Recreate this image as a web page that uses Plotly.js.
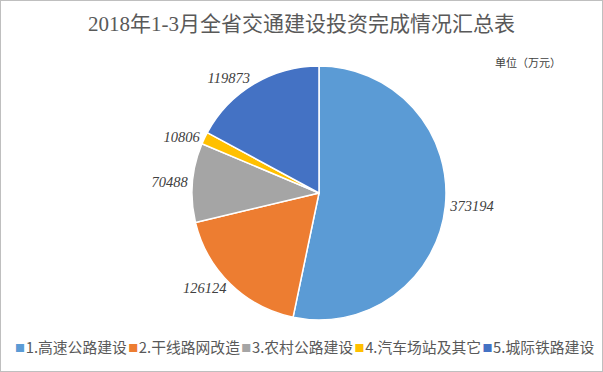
<!DOCTYPE html>
<html><head><meta charset="utf-8">
<script src="https://cdn.plot.ly/plotly-3.0.1.min.js"></script>
<style>
html,body{margin:0;padding:0;background:#fff;}
#chart{width:601px;height:370px;border:1px solid #BFBFBF;}
</style></head>
<body><div id="chart"></div>
<script>
const categories = ["1.高速公路建设","2.干线路网改造","3.农村公路建设","4.汽车场站及其它","5.城际铁路建设"];
const values = [373194, 126124, 70488, 10806, 119873];
const colors = ["#5B9BD5","#ED7D31","#A5A5A5","#FFC000","#4472C4"];
const titleText = "2018年1-3月全省交通建设投资完成情况汇总表";
const unitText = "单位（万元）";

const W = 601, H = 370;
const cx = 318, cy = 192, r = 127;
const data = [{
  type: "pie",
  labels: categories,
  values: values,
  sort: false,
  direction: "clockwise",
  rotation: 0,
  marker: {colors: colors, line: {color: "#FFFFFF", width: 1.5}},
  textposition: "outside",
  texttemplate: "%{value:.0f}",
  textfont: {family: "Liberation Serif, Times New Roman, serif", size: 14.5, color: "#404040", style: "italic"},
  hoverinfo: "label+value",
  automargin: false,
  showlegend: false,
  domain: {x: [(cx - r) / W, (cx + r) / W], y: [1 - (cy + r) / H, 1 - (cy - r) / H]}
}];

// legend built from the category and colour arrays
const legendText = categories.map((c, i) =>
  `<span style="color:${colors[i]};font-size:10px;baseline-shift:1px">■</span><span style="font-size:3px"> </span>${c}`
).join('<span style="font-size:6px"> </span>');

const layout = {
  width: W, height: H,
  margin: {l: 0, r: 0, t: 0, b: 0},
  paper_bgcolor: "#FFFFFF",
  title: {text: titleText, x: 0.5, xanchor: "center", y: 0.94, yanchor: "middle",
    font: {family: "Liberation Serif, Noto Sans CJK SC, serif", size: 21, color: "#595959"}},
  showlegend: false,
  annotations: [
    {text: unitText, xref: "paper", yref: "paper", x: 0.935, y: 0.835, xanchor: "right", yanchor: "middle",
      showarrow: false, font: {family: "Noto Sans CJK SC, sans-serif", size: 11, color: "#404040"}},
    {text: legendText, xref: "paper", yref: "paper", x: 0.505, y: 1 - 345 / H, xanchor: "center", yanchor: "middle",
      showarrow: false, font: {family: "Noto Sans CJK SC, sans-serif", size: 14.8, color: "#595959"}}
  ]
};
Plotly.newPlot("chart", data, layout, {displayModeBar: false, staticPlot: true});
</script></body></html>
